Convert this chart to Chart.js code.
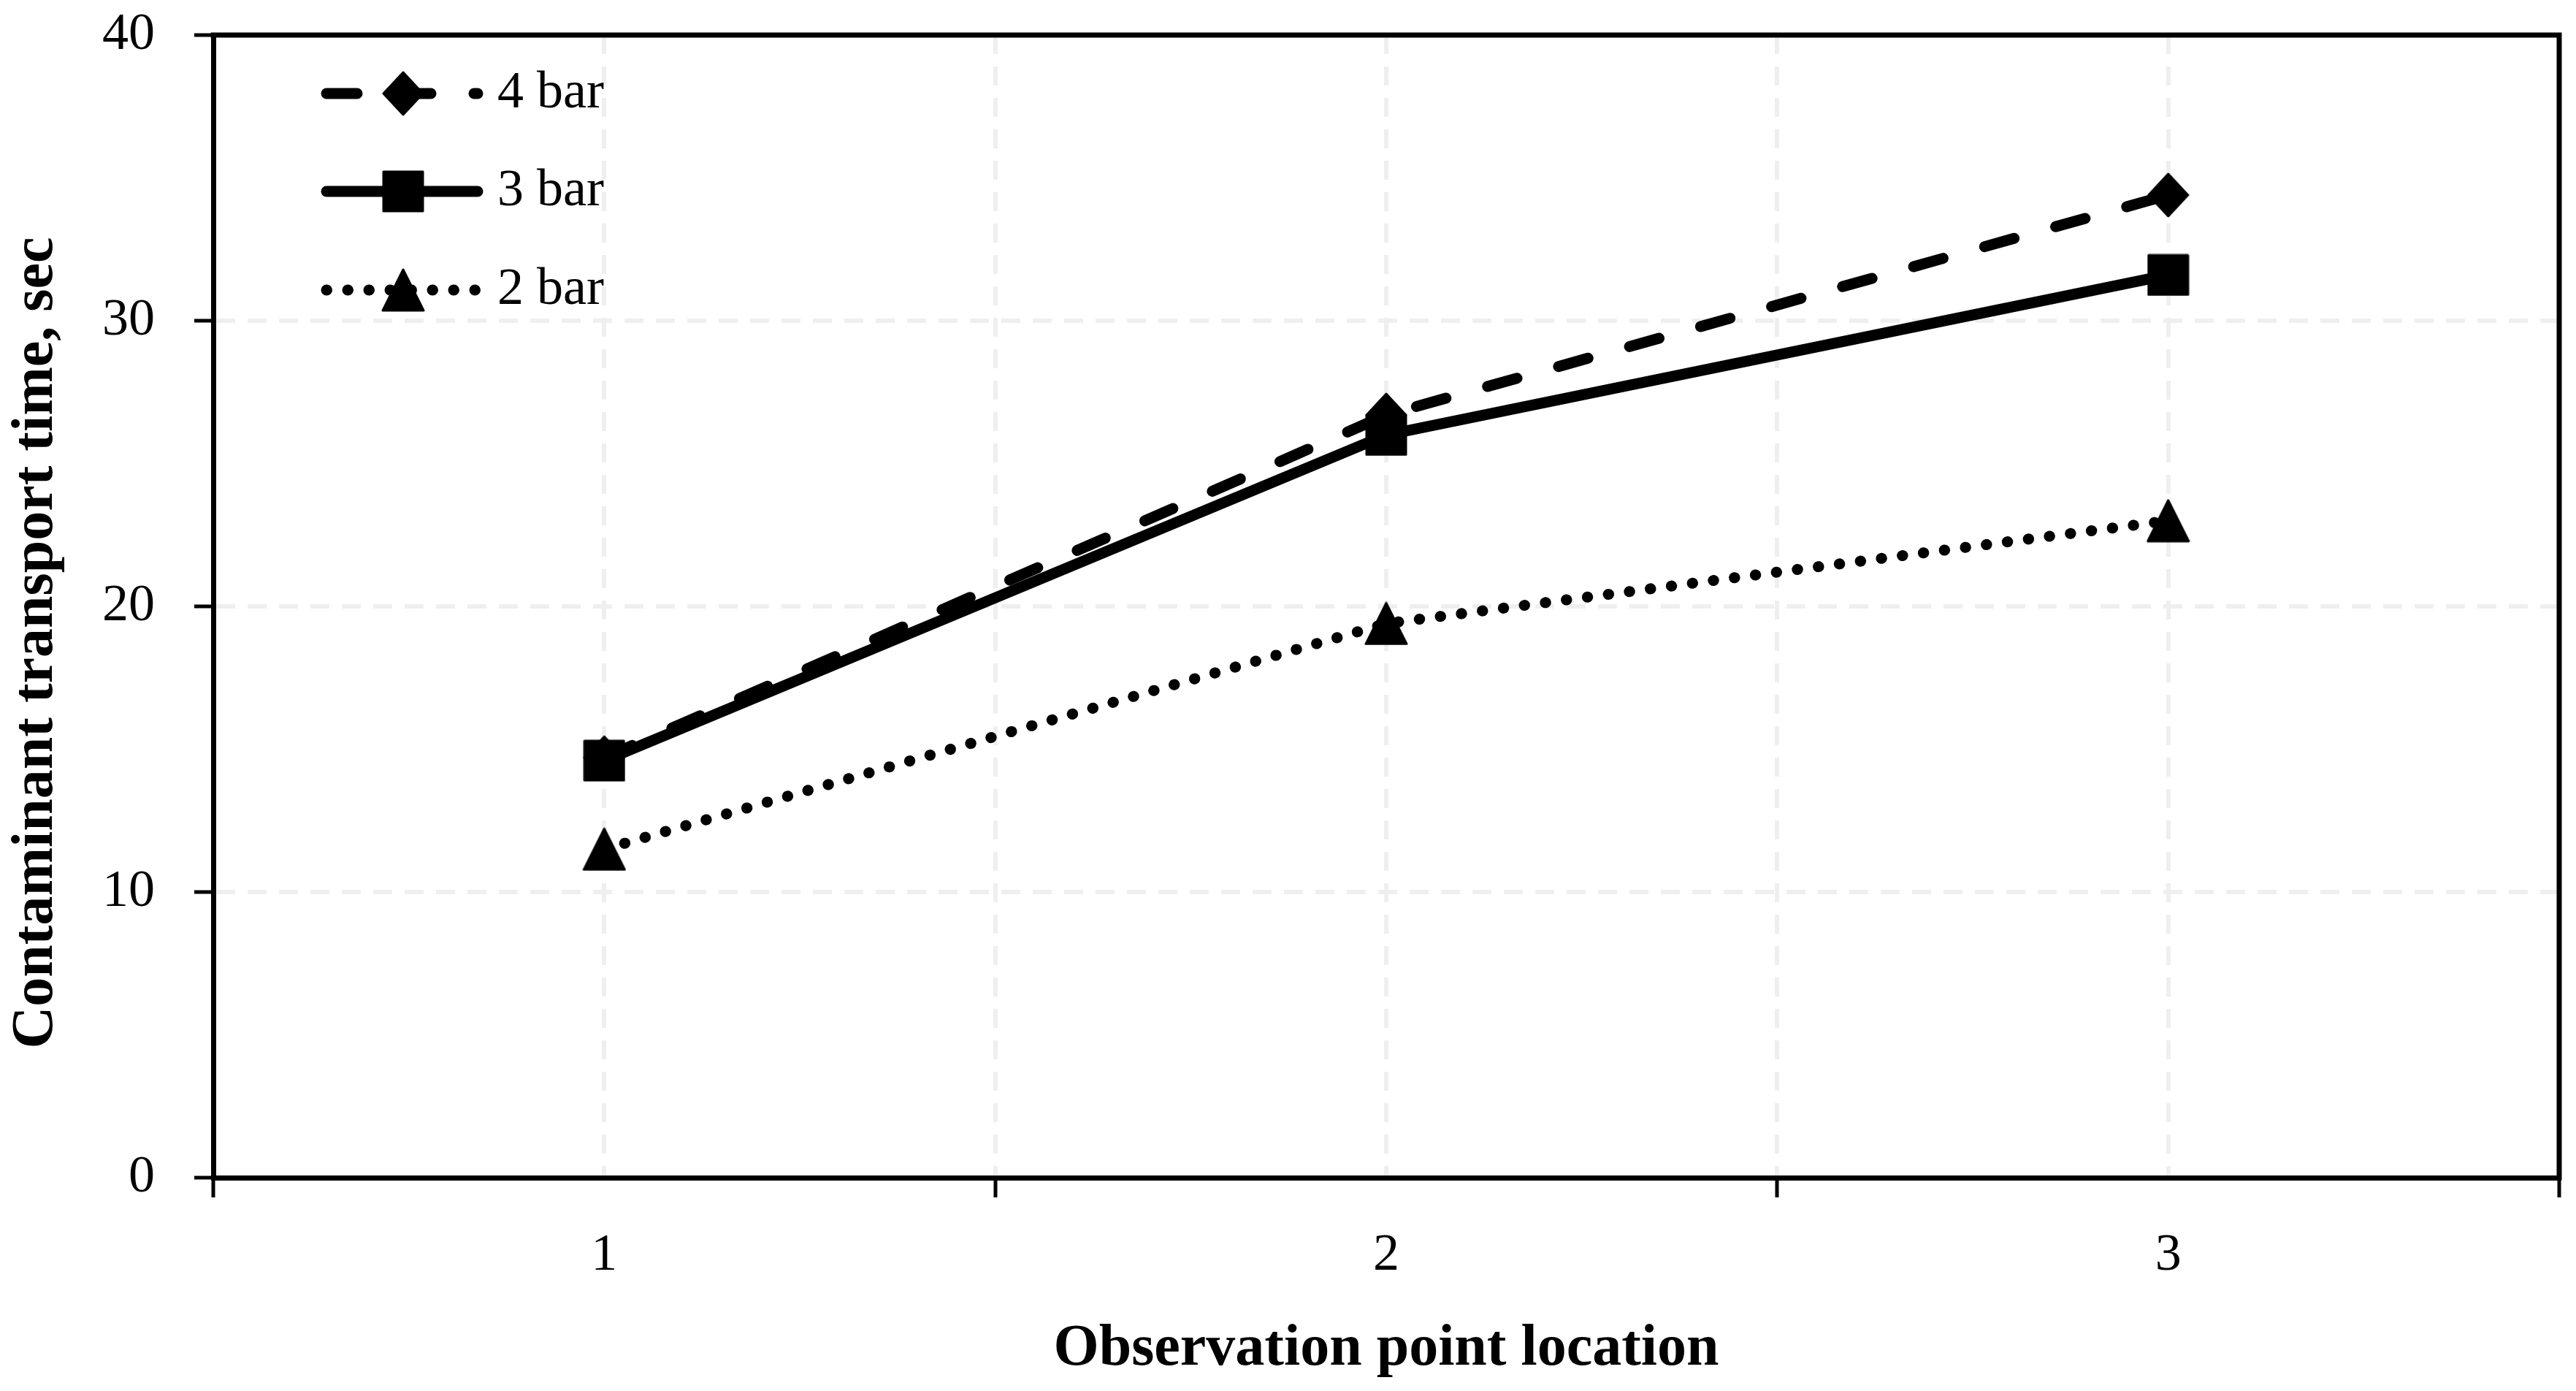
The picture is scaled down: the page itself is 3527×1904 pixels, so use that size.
<!DOCTYPE html>
<html>
<head>
<meta charset="utf-8">
<title>Contaminant transport time</title>
<script src="https://cdn.jsdelivr.net/npm/chart.js@4.4.1/dist/chart.umd.min.js"></script>
<style>
  html, body { margin: 0; padding: 0; background: #fff; }
  #wrap { width: 3527px; height: 1904px; }
</style>
</head>
<body>
<div id="wrap"><canvas id="chart"></canvas></div>
<script>
// observation points and transport times (sec)
var locations = [1, 2, 3];
var seriesNames = ['4 bar', '3 bar', '2 bar'];
var bar4 = [14.7, 26.7, 34.4];
var bar3 = [14.6, 26.0, 31.6];
var bar2 = [11.5, 19.4, 23.0];
var yTicks = [0, 10, 20, 30, 40];

var FONT = "'Liberation Serif', 'Times New Roman', serif";

function makeMarker(w, h, draw) {
	var c = document.createElement('canvas');
	c.width = w; c.height = h;
	var g = c.getContext('2d');
	g.fillStyle = '#000'; g.strokeStyle = '#000';
	g.lineJoin = 'round'; g.lineWidth = 3;
	g.beginPath();
	draw(g, w, h);
	g.closePath();
	g.fill(); g.stroke();
	return c;
}
var diamond = makeMarker(58, 62, function(g){ g.moveTo(29,2); g.lineTo(56,31); g.lineTo(29,60); g.lineTo(2,31); });
var square = makeMarker(58, 58, function(g){ g.rect(2,2,54,54); });
var triangle = makeMarker(60, 60, function(g){ g.moveTo(30,2); g.lineTo(58,58); g.lineTo(2,58); });

function pts(vals) {
	return locations.map(function(x, i){ return {x: x, y: vals[i]}; });
}

// Excel-like box around the plot: top and right edges
var framePlugin = {
	id: 'frame',
	beforeDatasetsDraw: function(chart) {
		var a = chart.chartArea, ctx = chart.ctx;
		ctx.save();
		ctx.strokeStyle = '#000';
		ctx.lineWidth = 7;
		ctx.lineCap = 'square';
		ctx.beginPath();
		ctx.moveTo(a.left, a.top);
		ctx.lineTo(a.right, a.top);
		ctx.lineTo(a.right, a.bottom);
		ctx.stroke();
		ctx.restore();
	}
};

// legend with line sample + marker, inside the plot, top left
var lineLegend = {
	id: 'lineLegend',
	afterDraw: function(chart) {
		var a = chart.chartArea, ctx = chart.ctx;
		var rows = [80, 214, 349];
		chart.data.datasets.forEach(function(ds, i){
			var y = a.top + rows[i];
			ctx.save();
			ctx.strokeStyle = ds.borderColor;
			ctx.lineWidth = ds.borderWidth;
			ctx.lineCap = ds.borderCapStyle || 'butt';
			ctx.setLineDash(ds.borderDash || []);
			ctx.beginPath();
			ctx.moveTo(a.left + 155, y);
			ctx.lineTo(a.left + 362, y);
			ctx.stroke();
			ctx.setLineDash([]);
			var m = ds.pointStyle;
			ctx.drawImage(m, a.left + 260 - m.width / 2, y - m.height / 2);
			ctx.fillStyle = '#000';
			ctx.font = '72px ' + FONT;
			ctx.textBaseline = 'middle';
			ctx.textAlign = 'left';
			ctx.fillText(ds.label, a.left + 389, y);
			ctx.restore();
		});
	}
};

var ctx = document.getElementById('chart').getContext('2d');
window.transportChart = new Chart(ctx, {
	type: 'line',
	data: {
		datasets: [
			{ label: seriesNames[0], data: pts(bar4), order: 2, borderColor: '#000', borderWidth: 15,
			  borderDash: [42, 59], borderCapStyle: 'round', pointStyle: diamond, pointRadius: 30, tension: 0 },
			{ label: seriesNames[1], data: pts(bar3), order: 1, borderColor: '#000', borderWidth: 15,
			  borderCapStyle: 'round', pointStyle: square, pointRadius: 30, tension: 0 },
			{ label: seriesNames[2], data: pts(bar2), order: 3, borderColor: '#000', borderWidth: 15,
			  borderDash: [0.5, 28.5], borderCapStyle: 'round', pointStyle: triangle, pointRadius: 30, tension: 0 }
		]
	},
	options: {
		responsive: true, maintainAspectRatio: false, animation: false, devicePixelRatio: 1, events: [],
		layout: { autoPadding: false, padding: { top: 48, right: 23, bottom: 0, left: 0 } },
		plugins: { legend: { display: false }, tooltip: { enabled: false } },
		scales: {
			x: {
				type: 'linear', min: 0.5, max: 3.5,
				afterFit: function(s){ s.height = 292; s.paddingLeft = 0; s.paddingRight = 0; },
				ticks: { stepSize: 0.5, autoSkip: false, padding: 37, color: '#000', font: { family: FONT, size: 72 },
					callback: function(v){ return locations.indexOf(v) >= 0 ? String(v) : ''; } },
				grid: { color: '#efefef', lineWidth: 6, tickLength: 27, tickWidth: 5, tickBorderDash: [],
					tickColor: function(c){ return Number.isInteger(c.tick.value) ? 'rgba(0,0,0,0)' : '#000'; } },
				border: { color: '#000', width: 7, dash: [26, 17] },
				title: { display: true, text: 'Observation point location', color: '#000', padding: { top: 0, bottom: 9 },
					font: { family: FONT, size: 80, weight: 'bold' } }
			},
			y: {
				min: yTicks[0], max: yTicks[yTicks.length - 1],
				afterFit: function(s){ s.width = 292; s.paddingTop = 0; s.paddingBottom = 0; },
				afterBuildTicks: function(s){ s.ticks = yTicks.map(function(v){ return {value: v}; }); },
				ticks: { padding: 54, color: '#000', font: { family: FONT, size: 72 } },
				grid: { color: '#efefef', lineWidth: 6, tickLength: 26, tickWidth: 5, tickColor: '#000', tickBorderDash: [] },
				border: { color: '#000', width: 7, dash: [26, 17] },
				title: { display: true, text: 'Contaminant transport time, sec     ', color: '#000', padding: { top: 2, bottom: 0 },
					font: { family: FONT, size: 80, weight: 'bold' } }
			}
		}
	},
	plugins: [framePlugin, lineLegend]
});
</script>
</body>
</html>
